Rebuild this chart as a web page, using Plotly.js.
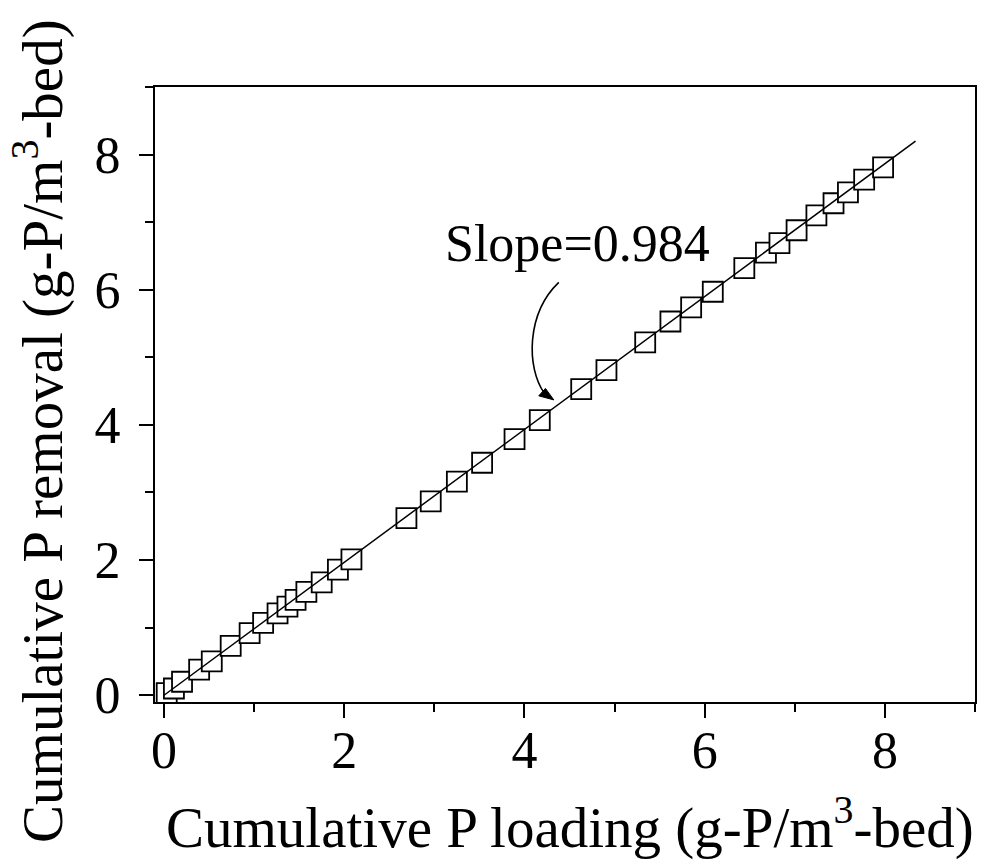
<!DOCTYPE html>
<html>
<head>
<meta charset="utf-8">
<script src="https://cdn.plot.ly/plotly-3.0.1.min.js"></script>
<style>html,body{margin:0;padding:0;background:#fff;}#chart{width:989px;height:864px;}</style>
</head>
<body>
<div id="chart"></div>
<script>
// Measured data (cumulative P loading vs cumulative P removal, g-P/m3-bed)
const loadingX = [0.03, 0.11, 0.20, 0.39, 0.53, 0.74, 0.95, 1.10, 1.26, 1.37, 1.46, 1.58, 1.75, 1.93, 2.08,
                  2.69, 2.96, 3.25, 3.53, 3.89, 4.17, 4.63, 4.91, 5.34, 5.62, 5.85, 6.09, 6.44, 6.68, 6.83,
                  7.02, 7.24, 7.43, 7.59, 7.77, 7.98];
const removalY = [0.03, 0.10, 0.20, 0.38, 0.50, 0.73, 0.92, 1.07, 1.21, 1.31, 1.41, 1.53, 1.67, 1.86, 2.01,
                  2.62, 2.87, 3.16, 3.44, 3.79, 4.07, 4.53, 4.81, 5.22, 5.53, 5.74, 5.97, 6.32, 6.55, 6.69,
                  6.88, 7.10, 7.28, 7.44, 7.63, 7.81];
// Linear fit line end points (slope = 0.984)
const fitX = [0.0, 8.34];
const fitY = [0.0, 8.20];
const xTicks = [0, 2, 4, 6, 8];
const yTicks = [0, 2, 4, 6, 8];
const slopeLabel = 'Slope=0.984';
const xTitle = 'Cumulative P loading (g-P/m<sup>3</sup>-bed)';
const yTitle = 'Cumulative P removal (g-P/m<sup>3</sup>-bed)';

const FONT = 'Liberation Serif, Times New Roman, serif';

const traces = [
  {
    x: loadingX, y: removalY, type: 'scatter', mode: 'markers',
    marker: {symbol: 'square', size: 20, color: '#ffffff', line: {color: '#000000', width: 1.8}},
    showlegend: false, cliponaxis: false
  },
  {
    x: fitX, y: fitY, type: 'scatter', mode: 'lines',
    line: {color: '#000000', width: 1.5},
    showlegend: false
  }
];

const axisCommon = {
  showgrid: false, zeroline: false,
  showline: true, linecolor: '#000', linewidth: 2, mirror: true,
  ticks: 'outside', ticklen: 14, tickwidth: 2, tickcolor: '#000',
  tickfont: {family: FONT, size: 52, color: '#000'},
  minor: {dtick: 1, ticks: 'outside', ticklen: 8, tickwidth: 2, tickcolor: '#000'}
};

const layout = {
  width: 989, height: 864,
  margin: {l: 155, r: 14, t: 87, b: 162},
  paper_bgcolor: '#fff', plot_bgcolor: '#fff',
  showlegend: false,
  xaxis: Object.assign({}, axisCommon, {
    range: [-0.1, 9], tickvals: xTicks, ticktext: xTicks.map(String),
    ticklabelstandoff: -12
  }),
  yaxis: Object.assign({}, axisCommon, {
    range: [-0.1, 9], tickvals: yTicks, ticktext: yTicks.map(String),
    ticklabelstandoff: 8
  }),
  shapes: [
    {type: 'path', xref: 'x', yref: 'y',
     path: 'M 4.381,6.11 C 4.02,5.65 4.02,4.85 4.22,4.47',
     line: {color: '#000', width: 1.6}},
    {type: 'path', xref: 'x', yref: 'y',
     path: 'M 4.159,4.43 L 4.326,4.37 L 4.233,4.54 Z',
     fillcolor: '#000', line: {color: '#000', width: 1}}
  ],
  annotations: [
    {x: 4.59, y: 6.68, xref: 'x', yref: 'y', text: slopeLabel, showarrow: false,
     font: {family: FONT, size: 52, color: '#000'}},
    {x: 0.506, y: -0.197, xref: 'paper', yref: 'paper', text: xTitle, showarrow: false,
     xanchor: 'center', yanchor: 'middle', font: {family: FONT, size: 57, color: '#000'}},
    {x: -0.142, y: 0.44, xref: 'paper', yref: 'paper', text: yTitle, showarrow: false, textangle: -90,
     xanchor: 'center', yanchor: 'middle', font: {family: FONT, size: 57, color: '#000'}}
  ]
};

Plotly.newPlot('chart', traces, layout, {staticPlot: true, displayModeBar: false});
</script>
</body>
</html>
